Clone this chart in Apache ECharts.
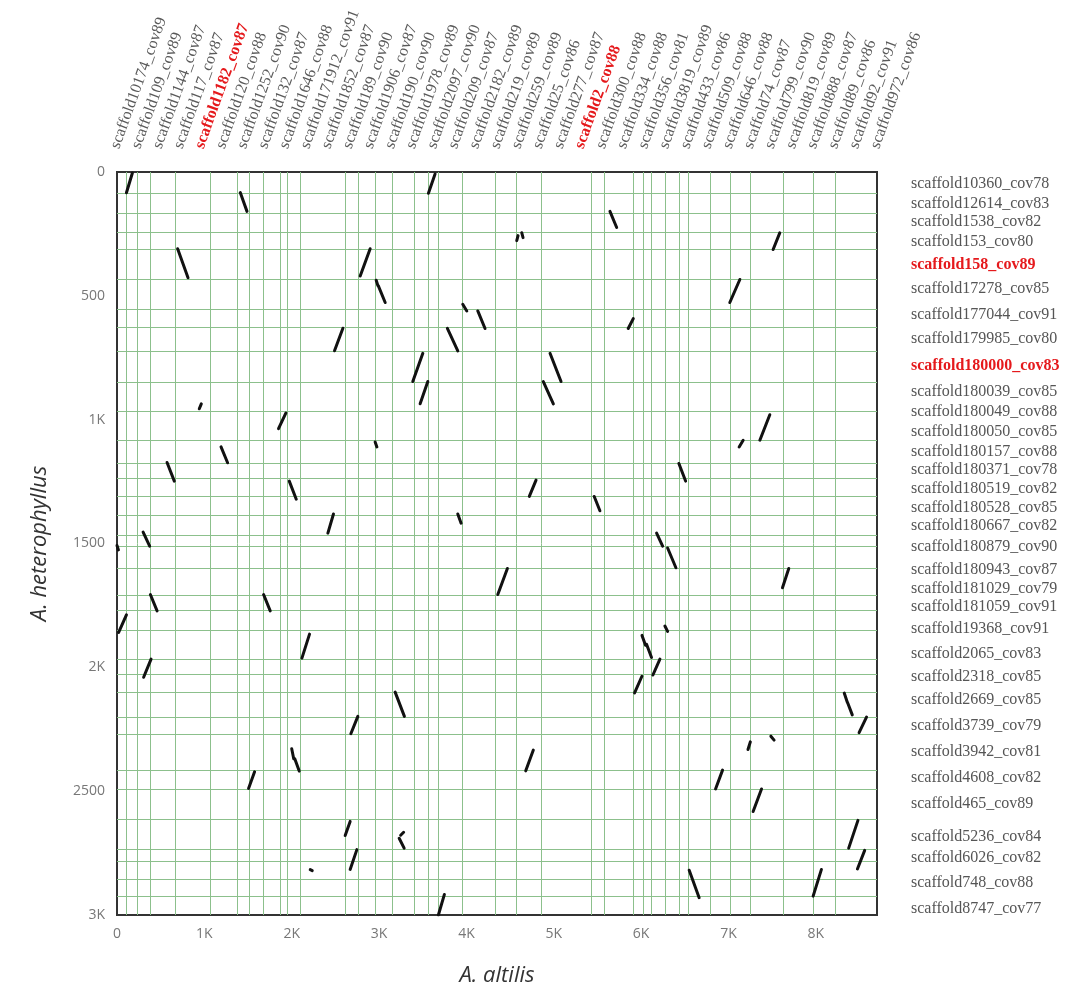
<!DOCTYPE html>
<html>
<head>
<meta charset="utf-8">
<title>A. altilis vs A. heterophyllus</title>
<script src="https://cdn.jsdelivr.net/npm/echarts@6/dist/echarts.min.js"></script>
<style>
  html, body { margin: 0; padding: 0; background: #fff; }
  #chart { width: 1067px; height: 992px; }
</style>
</head>
<body>
<div id="chart"></div>
<script>
const xMax = 8700;
const yMax = 3000;

// A. altilis scaffolds (x), in plot order
const colNames = [
  'scaffold10174_cov89', 'scaffold109_cov89', 'scaffold1144_cov87', 'scaffold117_cov87',
  'scaffold1182_cov87', 'scaffold120_cov88', 'scaffold1252_cov90', 'scaffold132_cov87',
  'scaffold1646_cov88', 'scaffold171912_cov91', 'scaffold1852_cov87', 'scaffold189_cov90',
  'scaffold1906_cov87', 'scaffold190_cov90', 'scaffold1978_cov89', 'scaffold2097_cov90',
  'scaffold209_cov87', 'scaffold2182_cov89', 'scaffold219_cov89', 'scaffold259_cov89',
  'scaffold25_cov86', 'scaffold277_cov87', 'scaffold2_cov88', 'scaffold300_cov88',
  'scaffold334_cov88', 'scaffold356_cov81', 'scaffold3819_cov89', 'scaffold433_cov86',
  'scaffold509_cov88', 'scaffold646_cov88', 'scaffold74_cov87', 'scaffold799_cov90',
  'scaffold819_cov89', 'scaffold888_cov87', 'scaffold89_cov86', 'scaffold92_cov91',
  'scaffold972_cov86'
];
// scaffold boundaries along x (kb)
const colBreaks = [108, 230, 382, 668, 1068, 1374, 1518, 1671, 1869, 1952, 2101, 2612,
  2765, 2957, 3147, 3402, 3565, 3680, 3947, 4328, 4576, 4851, 5434, 5575, 5910, 6024,
  6120, 6272, 6436, 6539, 6787, 7016, 7253, 7626, 7969, 8217];

// A. heterophyllus scaffolds (y)
const rowNames = [
  'scaffold10360_cov78', 'scaffold12614_cov83', 'scaffold1538_cov82', 'scaffold153_cov80',
  'scaffold158_cov89', 'scaffold17278_cov85', 'scaffold177044_cov91', 'scaffold179985_cov80',
  'scaffold180000_cov83', 'scaffold180039_cov85', 'scaffold180049_cov88', 'scaffold180050_cov85',
  'scaffold180157_cov88', 'scaffold180371_cov78', 'scaffold180519_cov82', 'scaffold180528_cov85',
  'scaffold180667_cov82', 'scaffold180879_cov90', 'scaffold180943_cov87', 'scaffold181029_cov79',
  'scaffold181059_cov91', 'scaffold19368_cov91', 'scaffold2065_cov83', 'scaffold2318_cov85',
  'scaffold2669_cov85', 'scaffold3739_cov79', 'scaffold3942_cov81', 'scaffold4608_cov82',
  'scaffold465_cov89', 'scaffold5236_cov84', 'scaffold6026_cov82', 'scaffold748_cov88',
  'scaffold8747_cov77'
];
const rowLabelPos = [48, 129, 201, 281, 373, 470, 578, 675, 783, 888, 968, 1048, 1128,
  1201, 1281, 1357, 1430, 1514, 1606, 1683, 1755, 1843, 1944, 2040, 2133, 2237, 2341,
  2446, 2550, 2683, 2771, 2871, 2976];
// scaffold boundaries along y (kb)
const rowBreaks = [84, 165, 245, 313, 434, 554, 627, 723, 847, 968, 1084, 1177, 1237,
  1309, 1386, 1466, 1510, 1598, 1707, 1771, 1851, 1968, 2028, 2100, 2201, 2269, 2414,
  2494, 2614, 2735, 2783, 2855, 2924];

const highlighted = ['scaffold1182_cov87', 'scaffold2_cov88', 'scaffold158_cov89', 'scaffold180000_cov83'];

// syntenic hits: [x1, y1, x2, y2]
const hits = [
  [108, 84, 176, 4], [1411, 83, 1488, 159], [694, 310, 813, 427], [3565, 86, 3641, 8],
  [2784, 420, 2898, 310], [2967, 437, 2986, 458], [2993, 461, 3070, 527], [3958, 534, 4004, 561],
  [4130, 561, 4213, 632], [2490, 722, 2586, 631], [3782, 631, 3901, 722], [3386, 846, 3501, 732],
  [3470, 936, 3558, 846], [942, 956, 965, 936], [1849, 1036, 1934, 973], [2955, 1090, 2975, 1110],
  [1191, 1110, 1266, 1174], [573, 1173, 656, 1248], [1972, 1248, 2052, 1321], [2414, 1458, 2478, 1381],
  [3901, 1381, 3939, 1418], [5643, 159, 5720, 224], [4576, 277, 4591, 257], [4633, 245, 4648, 265],
  [7511, 313, 7587, 246], [7015, 527, 7130, 434], [5852, 632, 5910, 592], [4957, 732, 5083, 846],
  [4880, 846, 4995, 936], [7359, 1083, 7473, 980], [7122, 1110, 7168, 1083], [6432, 1177, 6509, 1248],
  [4720, 1310, 4797, 1244], [5463, 1310, 5528, 1368], [299, 1454, 374, 1511], [0, 1508, 16, 1526],
  [382, 1706, 459, 1772], [1678, 1706, 1754, 1772], [19, 1859, 108, 1788], [2117, 1963, 2204, 1866],
  [305, 2040, 390, 1967], [3184, 2100, 3290, 2198], [2677, 2268, 2757, 2198], [2000, 2329, 2023, 2369],
  [2035, 2369, 2086, 2419], [1506, 2489, 1575, 2422], [2612, 2679, 2669, 2622], [3230, 2690, 3287, 2730],
  [3247, 2678, 3281, 2666], [2669, 2816, 2746, 2736], [2212, 2817, 2235, 2821], [3679, 3000, 3748, 2917],
  [6177, 1458, 6246, 1511], [6303, 1518, 6398, 1598], [4359, 1706, 4469, 1601], [7618, 1679, 7690, 1601],
  [6272, 1833, 6303, 1855], [6010, 1871, 6050, 1911], [6062, 1907, 6119, 1960], [6135, 2031, 6215, 1967],
  [5925, 2103, 6009, 2036], [8325, 2104, 8359, 2140], [8365, 2144, 8417, 2192], [8495, 2264, 8580, 2201],
  [7223, 2332, 7250, 2301], [7485, 2278, 7522, 2294], [4679, 2418, 4766, 2334], [6852, 2491, 6932, 2415],
  [7282, 2582, 7378, 2491], [8376, 2730, 8482, 2618], [8476, 2814, 8559, 2739], [6550, 2819, 6664, 2930],
  [7969, 2924, 8064, 2816]
];

const labelFont = 'Liberation Serif';
const tickFont = 'Open Sans';

function kLabel(v) {
  if (v === 0) return '0';
  return v % 1000 === 0 ? v / 1000 + 'K' : String(v);
}
function nameLabel(name) {
  return highlighted.indexOf(name) >= 0 ? '{hl|' + name + '}' : name;
}
const hlStyle = { hl: { color: '#e5191c', fontWeight: 'bold', fontFamily: labelFont, fontSize: 16 } };

const chartDom = document.getElementById('chart');
const myChart = echarts.init(chartDom);
let option = {
  animation: false,
  grid: [
    { left: 117, top: 172, width: 760, height: 748, show: true, borderColor: '#333', borderWidth: 2 },
    { left: 104.5, top: 172, width: 781, height: 748, show: false }
  ],
  xAxis: [
    {
      type: 'value', gridIndex: 0, min: 0, max: xMax, interval: 1000,
      name: 'A. altilis', nameLocation: 'middle', nameGap: 50,
      nameTextStyle: { fontFamily: tickFont, fontStyle: 'italic', fontSize: 22, color: '#333' },
      axisLine: { show: false }, axisTick: { show: false }, splitLine: { show: false },
      axisLabel: {
        color: '#777', fontFamily: tickFont, fontSize: 14, margin: 12,
        formatter: (v) => (v % 1000 === 0 ? kLabel(v) : '')
      }
    },
    {
      type: 'category', gridIndex: 1, position: 'top', data: colNames,
      axisLine: { show: false }, axisTick: { show: false }, splitLine: { show: false },
      axisLabel: {
        interval: 0, rotate: 70, margin: 24, color: '#5a5a5a',
        fontFamily: labelFont, fontSize: 16, formatter: nameLabel, rich: hlStyle
      }
    }
  ],
  yAxis: [
    {
      type: 'value', gridIndex: 0, min: 0, max: yMax, interval: 500, inverse: true,
      name: 'A. heterophyllus', nameLocation: 'middle', nameGap: 66,
      nameTextStyle: { fontFamily: tickFont, fontStyle: 'italic', fontSize: 22, color: '#333' },
      axisLine: { show: false }, axisTick: { show: false }, splitLine: { show: false },
      axisLabel: { color: '#777', fontFamily: tickFont, fontSize: 14, margin: 12, formatter: kLabel }
    },
    {
      type: 'value', gridIndex: 0, min: 0, max: yMax, inverse: true, position: 'right',
      axisLine: { show: false }, axisTick: { show: false }, splitLine: { show: false },
      axisLabel: {
        customValues: rowLabelPos, margin: 34, color: '#555',
        fontFamily: labelFont, fontSize: 16, rich: hlStyle,
        formatter: (v) => {
          let best = 0;
          rowLabelPos.forEach((p, i) => {
            if (Math.abs(p - v) < Math.abs(rowLabelPos[best] - v)) best = i;
          });
          return nameLabel(rowNames[best]);
        }
      }
    },
    { type: 'value', gridIndex: 1, show: false, min: 0, max: 1 }
  ],
  series: [
    {
      type: 'scatter', xAxisIndex: 0, yAxisIndex: 0, data: [], silent: true, z: 1,
      markLine: {
        silent: true, symbol: ['none', 'none'], label: { show: false }, animation: false,
        lineStyle: { color: '#8cc08c', width: 1, type: 'solid' },
        emphasis: { disabled: true },
        data: colBreaks.map((v) => ({ xAxis: v })).concat(rowBreaks.map((v) => ({ yAxis: v })))
      }
    },
    {
      type: 'lines', coordinateSystem: 'cartesian2d', xAxisIndex: 0, yAxisIndex: 0,
      silent: true, z: 5,
      lineStyle: { color: '#111', width: 3, cap: 'round', opacity: 1, curveness: 0 },
      data: hits.map((h) => ({ coords: [[h[0], h[1]], [h[2], h[3]]] }))
    }
  ]
};
myChart.setOption(option);
</script>
</body>
</html>
